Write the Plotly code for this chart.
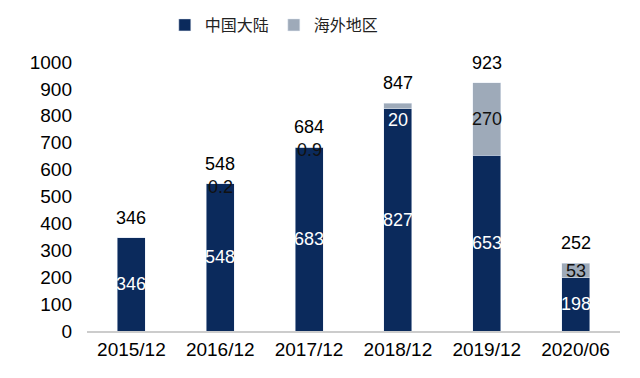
import plotly.graph_objects as go

categories = ["2015/12", "2016/12", "2017/12", "2018/12", "2019/12", "2020/06"]
mainland = [346, 548, 683, 827, 653, 198]
overseas = [0, 0.2, 0.9, 20, 270, 53]
totals = [346, 548, 684, 847, 923, 252]
mainland_labels = ["346", "548", "683", "827", "653", "198"]
overseas_labels = ["", "0.2", "0.9", "20", "270", "53"]
total_labels = ["346", "548", "684", "847", "923", "252"]

NAVY = "#0b2a5c"
GRAY = "#9eaab9"
FONT = "Liberation Sans, Arial, sans-serif"

fig = go.Figure()
fig.add_trace(go.Bar(x=categories, y=mainland, name="中国大陆", marker_color=NAVY))
fig.add_trace(go.Bar(x=categories, y=overseas, name="海外地区", marker_color=GRAY))

annotations = []
for i, c in enumerate(categories):
    annotations.append(dict(
        x=c, y=mainland[i] / 2, text=mainland_labels[i], showarrow=False,
        yanchor="middle", font=dict(size=18, color="white", family=FONT)))
    annotations.append(dict(
        x=c, y=totals[i], text=total_labels[i], showarrow=False,
        yanchor="bottom", yshift=8, font=dict(size=18, color="black", family=FONT)))
    if overseas_labels[i]:
        if overseas[i] >= 50:
            y, shift, col = mainland[i] + overseas[i] / 2, 0, "#111111"
        elif overseas[i] >= 10:
            y, shift, col = totals[i], -17, "white"
        else:
            y, shift, col = totals[i], -3, "#111111"
        annotations.append(dict(
            x=c, y=y, text=overseas_labels[i], showarrow=False,
            yanchor="middle", yshift=shift, font=dict(size=18, color=col, family=FONT)))

fig.update_layout(
    barmode="stack",
    bargap=0.685,
    width=640, height=378,
    margin=dict(l=79, r=28, t=54, b=55, autoexpand=False),
    plot_bgcolor="white", paper_bgcolor="white",
    font=dict(family=FONT, size=18, color="black"),
    legend=dict(
        orientation="h", x=0.245, xanchor="left", y=1.0, yanchor="top",
        xref="container", yref="container",
        font=dict(family="Noto Sans CJK SC", size=16, color="#222222"),
        itemwidth=30, traceorder="normal",
    ),
    annotations=annotations,
    showlegend=True,
)
fig.update_xaxes(
    showline=True, linecolor="#cccccc", linewidth=1.5, ticks="", automargin=False,
    tickfont=dict(size=19, family=FONT, color="black"), showgrid=False,
)
fig.update_yaxes(
    range=[0, 1000], dtick=100, showgrid=False, showline=False, zeroline=False,
    automargin=False,
    tickfont=dict(size=19, family=FONT, color="black"), ticks="", ticklabelstandoff=14,
)

fig.write_html("out.html")
